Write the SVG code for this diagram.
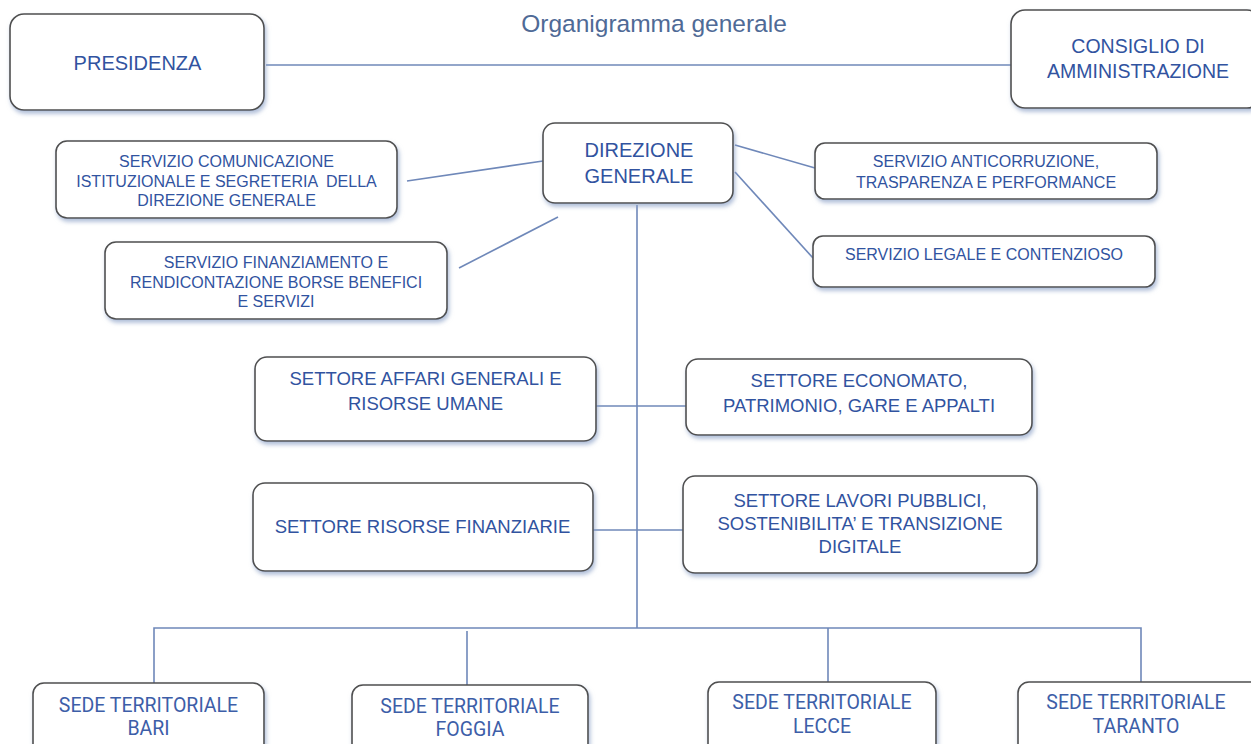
<svg xmlns="http://www.w3.org/2000/svg" width="1251" height="744" viewBox="0 0 1251 744">
<defs>
<filter id="sh" x="-10%" y="-20%" width="125%" height="150%">
<feDropShadow dx="1.5" dy="3" stdDeviation="2" flood-color="#8ea2c8" flood-opacity="0.7"/>
</filter>
<style>
.box{fill:#ffffff;stroke:#4f4f4f;stroke-width:1.6;filter:url(#sh)}
.t{font-family:"Liberation Sans",Arial,sans-serif;fill:#3153a0;text-anchor:middle}
.r{font-family:Roboto,"Liberation Sans",sans-serif;fill:#3d5ea8;text-anchor:middle;font-size:19.5px}
.big{font-size:20px}
.sv{font-size:16px}
.st{font-size:18.5px}
.ln{stroke:#6f88b9;stroke-width:1.6;fill:none}
</style>
</defs>
<rect width="1251" height="744" fill="#ffffff"/>
<text x="654" y="32" font-family="'Liberation Sans',Arial,sans-serif" font-size="24.5" fill="#4f6a96" text-anchor="middle">Organigramma generale</text>

<g id="connectors">
<line class="ln" x1="266" y1="65" x2="1011" y2="65"/>
<line class="ln" x1="407" y1="181" x2="543" y2="161"/>
<line class="ln" x1="459" y1="268" x2="558" y2="217"/>
<line class="ln" x1="735" y1="145" x2="815" y2="168"/>
<line class="ln" x1="735" y1="172" x2="813" y2="258"/>
<line class="ln" x1="637" y1="205" x2="637" y2="628"/>
<line class="ln" x1="596" y1="406" x2="686" y2="406"/>
<line class="ln" x1="593" y1="530" x2="683" y2="530"/>
<polyline class="ln" points="154,683 154,628 1141,628 1141,682"/>
<line class="ln" x1="467" y1="631" x2="467" y2="685"/>
<line class="ln" x1="828" y1="628" x2="828" y2="682"/>
</g>

<g id="presidenza">
<rect class="box" x="10" y="14" width="254" height="96" rx="14"/>
<text class="t big" x="137.5" y="70">PRESIDENZA</text>
</g>
<g id="consiglio">
<rect class="box" x="1011" y="10" width="250" height="98" rx="14"/>
<text class="t" font-size="19.5" x="1138" y="53">CONSIGLIO DI</text>
<text class="t" font-size="19.5" x="1138" y="78">AMMINISTRAZIONE</text>
</g>
<g id="direzione">
<rect class="box" x="543" y="123" width="190" height="80" rx="12"/>
<text class="t big" x="639" y="157">DIREZIONE</text>
<text class="t big" x="639" y="183">GENERALE</text>
</g>
<g id="comunicazione">
<rect class="box" x="56" y="141" width="341" height="77" rx="11"/>
<text class="t sv" x="226.5" y="167">SERVIZIO COMUNICAZIONE</text>
<text class="t sv" x="226.5" y="187" xml:space="preserve">ISTITUZIONALE E SEGRETERIA  DELLA</text>
<text class="t sv" x="226.5" y="206">DIREZIONE GENERALE</text>
</g>
<g id="finanziamento">
<rect class="box" x="105" y="242" width="342" height="77" rx="11"/>
<text class="t sv" x="276" y="268">SERVIZIO FINANZIAMENTO E</text>
<text class="t sv" x="276" y="288">RENDICONTAZIONE BORSE BENEFICI</text>
<text class="t sv" x="276" y="307">E SERVIZI</text>
</g>
<g id="anticorruzione">
<rect class="box" x="815" y="143" width="342" height="56" rx="10"/>
<text class="t sv" x="986" y="167">SERVIZIO ANTICORRUZIONE,</text>
<text class="t sv" x="986" y="188">TRASPARENZA E PERFORMANCE</text>
</g>
<g id="legale">
<rect class="box" x="813" y="236" width="342" height="51" rx="10"/>
<text class="t sv" x="984" y="260">SERVIZIO LEGALE E CONTENZIOSO</text>
</g>
<g id="affari">
<rect class="box" x="255" y="357" width="341" height="84" rx="12"/>
<text class="t st" x="425.5" y="385">SETTORE AFFARI GENERALI E</text>
<text class="t st" x="425.5" y="410">RISORSE UMANE</text>
</g>
<g id="risorse">
<rect class="box" x="253" y="483" width="340" height="88" rx="12"/>
<text class="t st" x="422.5" y="533">SETTORE RISORSE FINANZIARIE</text>
</g>
<g id="economato">
<rect class="box" x="686" y="359" width="346" height="76" rx="12"/>
<text class="t st" x="859" y="387">SETTORE ECONOMATO,</text>
<text class="t st" x="859" y="412">PATRIMONIO, GARE E APPALTI</text>
</g>
<g id="lavori">
<rect class="box" x="683" y="476" width="354" height="97" rx="12"/>
<text class="t st" x="860" y="507">SETTORE LAVORI PUBBLICI,</text>
<text class="t st" x="860" y="530">SOSTENIBILITA’ E TRANSIZIONE</text>
<text class="t st" x="860" y="553">DIGITALE</text>
</g>
<g id="bari">
<rect class="box" x="33" y="683" width="231" height="80" rx="11"/>
<text class="r" x="148.5" y="712">SEDE TERRITORIALE</text>
<text class="r" x="148.5" y="735">BARI</text>
</g>
<g id="foggia">
<rect class="box" x="352" y="685" width="236" height="80" rx="11"/>
<text class="r" x="470" y="713">SEDE TERRITORIALE</text>
<text class="r" x="470" y="736">FOGGIA</text>
</g>
<g id="lecce">
<rect class="box" x="708" y="682" width="228" height="80" rx="11"/>
<text class="r" x="822" y="709">SEDE TERRITORIALE</text>
<text class="r" x="822" y="733">LECCE</text>
</g>
<g id="taranto">
<rect class="box" x="1018" y="682" width="245" height="80" rx="11"/>
<text class="r" x="1136" y="709">SEDE TERRITORIALE</text>
<text class="r" x="1136" y="733">TARANTO</text>
</g>
</svg>
